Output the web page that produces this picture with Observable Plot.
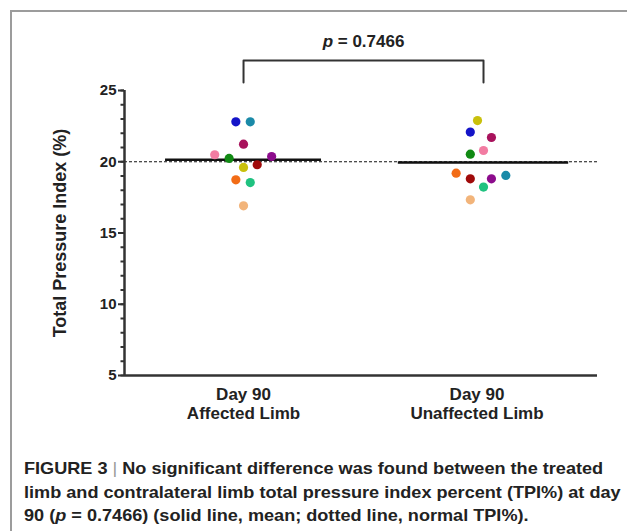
<!DOCTYPE html>
<html>
<head>
<meta charset="utf-8">
<script src="https://cdn.jsdelivr.net/npm/d3@7"></script>
<script src="https://cdn.jsdelivr.net/npm/@observablehq/plot@0.6"></script>
<style>
  html, body { margin: 0; padding: 0; background: #fff; }
  #wrap { position: relative; width: 627px; height: 531px; overflow: hidden; font-family: "Liberation Sans", Arial, sans-serif; }
  #frame { position: absolute; left: 10px; top: 10px; width: 640px; height: 540px; border-top: 2px solid #9c9c9c; border-left: 2px solid #9c9c9c; }
  #chart { position: absolute; left: 0; top: 0; }
  #caption { position: absolute; left: 24px; top: 457px; font-weight: bold; font-size: 16.3px; line-height: 23.5px; color: #222; white-space: nowrap; transform: scaleX(1.112); transform-origin: 0 0; }
  #caption .sep { color: #9a9a9a; font-weight: normal; }
</style>
</head>
<body>
<div id="wrap">
  <div id="frame"></div>
  <div id="chart"></div>
  <div id="caption">FIGURE 3 <span class="sep">|</span> No significant difference was found between the treated<br>limb and contralateral limb total pressure index percent (TPI%) at day<br>90 (<i>p</i> = 0.7466) (solid line, mean; dotted line, normal TPI%).</div>
</div>
<script>
// ---- data ----
const categories = ["Day 90\nAffected Limb", "Day 90\nUnaffected Limb"];
const subjects = ["S1","S2","S3","S4","S5","S6","S7","S8","S9","S10","S11"];
const subjectColors = ["#1414c8","#1a8aa8","#a8125c","#f27ca2","#118a14","#8c0c8c","#c9c00c","#a00a0a","#f26c16","#20c280","#f2b47a"];
const affectedTPI   = [22.8, 22.8, 21.23, 20.49, 20.23, 20.37, 19.6, 19.79, 18.73, 18.54, 16.91];
const unaffectedTPI = [22.08, 19.04, 21.7, 20.79, 20.53, 18.8, 22.89, 18.8, 19.2, 18.22, 17.33];
const affectedJitter   = [-0.032, 0.028, 0, -0.12, -0.06, 0.117, 0, 0.057, -0.032, 0.028, 0];
const unaffectedJitter = [-0.055, 0.093, 0.033, 0, -0.055, 0.033, -0.025, -0.055, -0.114, 0, -0.055];
const meanHalfWidth = [0.325, 0.355];
const labelShift = [0, -0.027];
const normalTPI = 20;
const yTicks = [5, 10, 15, 20, 25];
const yMinorTicks = d3.range(5, 26, 1);
const yDomain = [5, 25];
const xDomain = [-0.496, 1.475];
const yLabel = "Total Pressure Index (%)";
const pText = "p = 0.7466";
const bracketTop = 27.1;
const bracketBottom = 25.56;
const pTextLevel = 28.45;

// ---- derived tables ----
const groups = [affectedTPI, unaffectedTPI];
const jitters = [affectedJitter, unaffectedJitter];
const points = [];
groups.forEach((vals, g) => vals.forEach((v, i) => points.push({g, x: g + jitters[g][i], value: v, subject: subjects[i]})));
const means = groups.map((vals, g) => ({g, mean: d3.mean(vals), x1: g - meanHalfWidth[g], x2: g + meanHalfWidth[g]}));
const labels = categories.map((c, g) => ({x: g + labelShift[g], label: c}));
const bracket = [
  {x: 0, y: bracketBottom}, {x: 0, y: bracketTop}, {x: 1, y: bracketTop}, {x: 1, y: bracketBottom}
];

const axisColor = "#333";
const font = "'Liberation Sans', Arial, sans-serif";

const chart = Plot.plot({
  width: 627,
  height: 428,
  marginLeft: 124,
  marginRight: 30,
  marginTop: 90,
  marginBottom: 53,
  style: {fontFamily: font, background: "transparent", overflow: "visible"},
  x: {domain: xDomain, axis: null},
  y: {domain: yDomain, axis: null},
  color: {domain: subjects, range: subjectColors},
  marks: [
    Plot.ruleY([normalTPI], {x1: xDomain[0], x2: xDomain[1], stroke: "#111", strokeWidth: 1, strokeDasharray: "3,2"}),
    Plot.axisY(yMinorTicks, {anchor: "left", tickSize: 3.5, tickFormat: () => "", stroke: axisColor, strokeWidth: 2}),
    Plot.axisY(yTicks, {anchor: "left", tickSize: 6, tickPadding: 2, fontSize: 15, fontWeight: "bold", fill: "#222", stroke: axisColor, strokeWidth: 2, label: null}),
    Plot.ruleX([xDomain[0]], {y1: yDomain[0], y2: yDomain[1], stroke: axisColor, strokeWidth: 2.5}),
    Plot.ruleY([yDomain[0]], {x1: xDomain[0], x2: xDomain[1], stroke: axisColor, strokeWidth: 2.5}),
    Plot.text([yLabel], {frameAnchor: "left", dx: -64, rotate: -90, textAnchor: "middle", fontSize: 18, fontWeight: "bold", fill: "#222"}),
    Plot.text(labels, {x: "x", y: yDomain[0], text: "label", lineAnchor: "top", dy: 12, fontSize: 17, fontWeight: "bold", lineHeight: 1.07, fill: "#222"}),
    Plot.ruleY(means, {y: "mean", x1: "x1", x2: "x2", stroke: "#111", strokeWidth: 2.5}),
    Plot.dot(points, {x: "x", y: "value", fill: "subject", r: 4.6}),
    Plot.line(bracket, {x: "x", y: "y", stroke: axisColor, strokeWidth: 2, clip: false}),
    Plot.text([pText], {x: [0.5], y: [pTextLevel], fontSize: 17, fontWeight: "bold", fill: "#222"})
  ]
});

// italic "p" in the significance label
chart.querySelectorAll("text").forEach(t => {
  if (t.textContent === pText) {
    t.textContent = "";
    const ns = "http://www.w3.org/2000/svg";
    const a = document.createElementNS(ns, "tspan");
    a.setAttribute("font-style", "italic");
    a.textContent = "p";
    const b = document.createElementNS(ns, "tspan");
    b.textContent = " = 0.7466";
    t.appendChild(a); t.appendChild(b);
  }
});
document.getElementById("chart").appendChild(chart);
</script>
</body>
</html>
